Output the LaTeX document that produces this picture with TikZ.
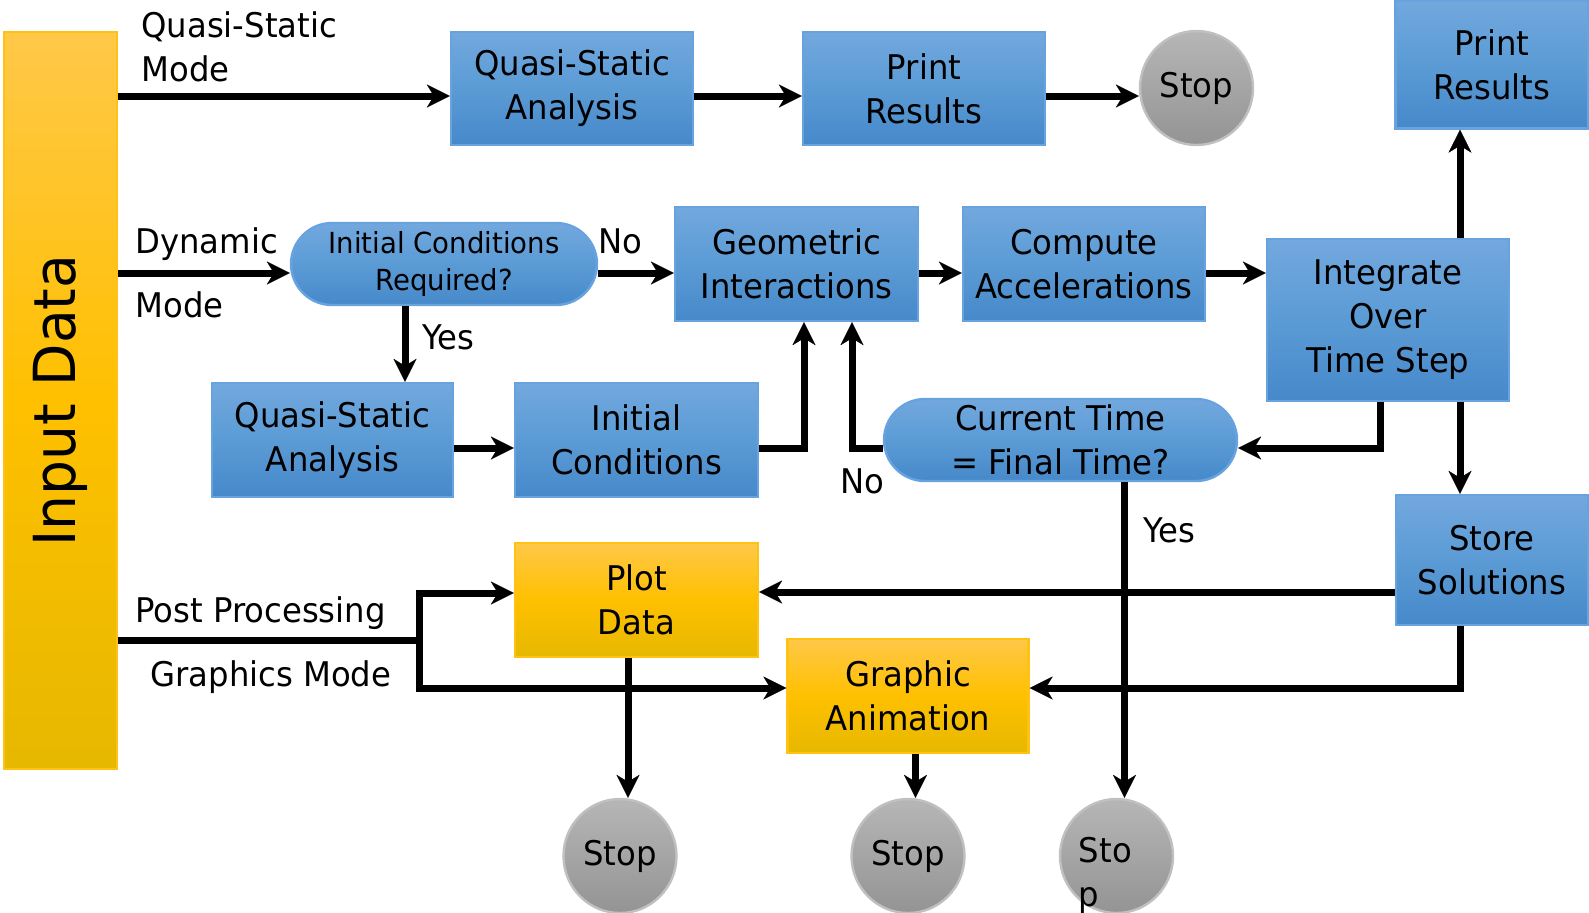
\documentclass[tikz,border=0pt]{standalone}
\usepackage{fontspec}
\setmainfont{DejaVu Sans}[FakeStretch=0.95]
\usetikzlibrary{arrows.meta,shapes.geometric,shapes.misc}

\definecolor{bluetop}{RGB}{114,168,222}
\definecolor{bluemid}{RGB}{91,155,213}
\definecolor{bluebot}{RGB}{70,137,202}
\definecolor{blueedge}{RGB}{104,163,224}
\definecolor{goldtop}{RGB}{255,200,72}
\definecolor{goldmid}{RGB}{255,192,0}
\definecolor{goldbot}{RGB}{230,184,0}
\definecolor{goldedge}{RGB}{255,194,20}
\definecolor{greytop}{RGB}{182,182,182}
\definecolor{greybot}{RGB}{148,148,148}
\definecolor{greyedge}{RGB}{192,192,192}

\newcommand\txtMain{\fontsize{17}{22}\selectfont}
\newcommand\txtSmall{\fontsize{14.5}{18.5}\selectfont}
\newcommand\txtBig{\fontsize{29}{34}\selectfont}

\begin{document}
\begin{tikzpicture}[x=0.5pt,y=-0.5pt,
  bluebox/.style={rectangle, draw=blueedge, line width=1.2pt,
    top color=bluetop, bottom color=bluebot, middle color=bluemid,
    inner sep=0pt, align=center, font=\txtMain},
  goldbox/.style={rectangle, draw=goldedge, line width=1.2pt,
    top color=goldtop, bottom color=goldbot, middle color=goldmid,
    inner sep=0pt, align=center, font=\txtMain},
  decision/.style={rounded rectangle, draw=blueedge, line width=1.2pt,
    top color=bluetop, bottom color=bluebot, middle color=bluemid,
    inner sep=0pt, align=center},
  stopnode/.style={ellipse, draw=greyedge, line width=1.2pt,
    top color=greytop, bottom color=greybot,
    inner sep=0pt, minimum width=56.5pt, minimum height=57pt, font=\txtMain},
  lbl/.style={inner sep=0pt, anchor=base west, font=\txtMain},
  ln/.style={line width=3.5pt, line join=miter},
  arr/.style={ln, -{Stealth[length=11.5pt, width=11.5pt, inset=3.5pt, line width=0.1pt]}}
]
\useasboundingbox (0,0) rectangle (1589,912);
\fill[white] (0,0) rectangle (1589,912);
\clip (0,0) rectangle (1589,912);

% input bar
\node[goldbox, minimum width=56.5pt, minimum height=368.5pt] (input) at (60.5,400.5) {};
\node[rotate=90, inner sep=0pt, font=\txtBig] (inputTxt) at (input.center) {Input Data};

% quasi-static branch
\node[bluebox, minimum width=121pt, minimum height=56.5pt] (qsa1) at (572,88.5) {Quasi-Static\\Analysis};
\node[bluebox, minimum width=121pt, minimum height=56.5pt] (pr1) at (924,88.5) {Print\\Results};
\node[stopnode] (stopA) at (1196.5,88) {Stop};

% dynamic branch
\node[decision, minimum width=153pt, minimum height=41pt, font=\txtSmall] (icr) at (444,264) {Initial Conditions\\Required?};
\node[bluebox, minimum width=121.5pt, minimum height=57pt] (geo) at (796.5,264) {Geometric\\Interactions};
\node[bluebox, minimum width=121pt, minimum height=57pt] (comp) at (1084,264) {Compute\\Accelerations};
\node[bluebox, minimum width=121pt, minimum height=81pt] (integ) at (1388,320) {Integrate\\Over\\Time Step};
\node[bluebox, minimum width=96.5pt, minimum height=64pt] (prR) at (1492,64.5) {Print\\Results};
\node[bluebox, minimum width=120.5pt, minimum height=57pt] (qsa2) at (332.5,440) {Quasi-Static\\Analysis};
\node[bluebox, minimum width=121.5pt, minimum height=57pt] (ic) at (636.5,440) {Initial\\Conditions};
\node[decision, minimum width=176.5pt, minimum height=41pt, font=\txtMain] (ctf) at (1060.5,440) {Current Time\\= Final Time?};
\node[bluebox, minimum width=96pt, minimum height=65pt] (store) at (1492,560) {Store\\Solutions};

% post processing branch
\node[goldbox, minimum width=121.5pt, minimum height=57pt] (plot) at (636.5,600) {Plot\\Data};
\node[goldbox, minimum width=120.5pt, minimum height=57pt] (anim) at (908,696) {Graphic\\Animation};

\node[stopnode] (stopB) at (620,856) {Stop};
\node[stopnode] (stopC) at (908,856) {Stop};
\node[stopnode] (stopD) at (1116.5,856) {};
\node[lbl] (stopDa) at (1078.5,862) {Sto};
\node[lbl] (stopDb) at (1078.5,906) {p};

% labels
\node[inner sep=0pt, anchor=north west, align=left, font=\txtMain] (qsLbl) at (141,11.5) {Quasi-Static\\Mode};
\node[lbl] (dynLbl) at (135,253) {Dynamic};
\node[lbl] (modeLbl) at (135,317) {Mode};
\node[lbl] (noA) at (598,253) {No};
\node[lbl] (yesA) at (422,349) {Yes};
\node[lbl] (noB) at (840,493) {No};
\node[lbl] (yesB) at (1143,542) {Yes};
\node[lbl] (ppLbl) at (135,622) {Post Processing};
\node[lbl] (gmLbl) at (150,686) {Graphics Mode};

% connectors: quasi-static row
\coordinate (q1in) at ([yshift=-3.75pt]qsa1.west);
\draw[arr] (input.east |- q1in) -- (q1in);
\draw[arr] (qsa1.east |- q1in) -- (q1in -| pr1.west);
\draw[arr] (pr1.east |- q1in) -- (q1in -| stopA.west);

% connectors: dynamic row
\coordinate (dyn) at ([yshift=-4.5pt]icr.west);
\draw[arr] (input.east |- dyn) -- (dyn);
\draw[arr] (icr.east |- dyn) -- (dyn -| geo.west);
\draw[arr] (geo.east |- dyn) -- (dyn -| comp.west);
\draw[arr] (comp.east |- dyn) -- (dyn -| integ.west);

\coordinate (yesX) at ([xshift=36.25pt]qsa2.north);
\draw[arr] (yesX |- icr.south) -- (yesX);
\coordinate (icIn) at ([yshift=-4pt]ic.west);
\draw[arr] (qsa2.east |- icIn) -- (icIn);
\draw[arr] ([yshift=-4pt]ic.east) -| ([xshift=3.75pt]geo.south);

\coordinate (upX) at ([xshift=36pt]integ.north);
\draw[arr] (upX) -- (upX |- prR.south);
\coordinate (dnX) at ([xshift=36pt]integ.south);
\draw[arr] (dnX) -- (dnX |- store.north);
\draw[arr] ([xshift=-4pt]integ.south) |- ([yshift=-4pt]ctf.east);
\draw[arr] ([yshift=-4pt]ctf.west) -| ([xshift=27.75pt]geo.south);
\coordinate (yesT) at ([xshift=32pt]ctf.south);
\draw[arr] (yesT) -- (yesT |- stopD.north);

% connectors: results to post processing
\coordinate (stL) at ([yshift=4pt]plot.east);
\draw[arr] (store.west |- stL) -- (stL);
\draw[arr] (dnX |- store.south) |- ([yshift=4pt]anim.east);

\coordinate (fork) at (419,640);
\coordinate (pIn) at ([yshift=3.5pt]plot.west);
\coordinate (aIn) at ([yshift=4pt]anim.west);
\draw[ln] (input.east |- fork) -- (fork);
\draw[arr, line cap=rect] (fork |- pIn) -- (pIn);
\draw[arr] (fork |- pIn) -- (fork |- aIn) -- (aIn);

\coordinate (pdX) at ([xshift=-4.25pt]plot.south);
\draw[arr] (pdX) -- (pdX |- stopB.north);
\coordinate (adX) at ([xshift=3.75pt]anim.south);
\draw[arr] (adX) -- (adX |- stopC.north);
\end{tikzpicture}
\end{document}
